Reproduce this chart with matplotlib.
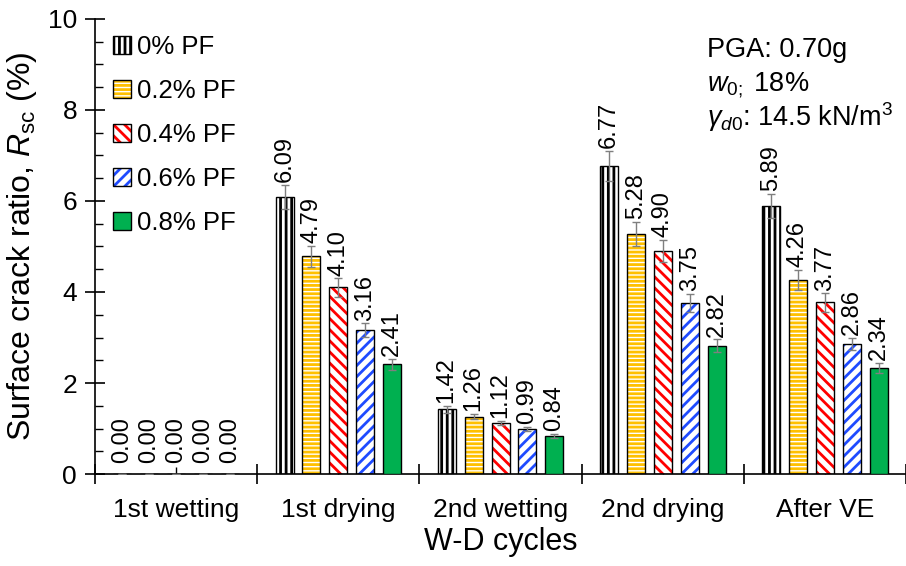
import numpy as np
import matplotlib
matplotlib.use("Agg")
from matplotlib import pyplot as plt
from matplotlib.patches import Patch
from matplotlib.legend_handler import HandlerTuple
from matplotlib.ticker import MultipleLocator, FixedLocator

plt.rcParams['font.family'] = ['Liberation Sans', 'DejaVu Sans']
plt.rcParams['mathtext.fontset'] = 'custom'
plt.rcParams['mathtext.rm'] = 'Liberation Sans'
plt.rcParams['mathtext.it'] = 'Liberation Sans:italic'
plt.rcParams['hatch.linewidth'] = 2.0

# data
cycles = ['1st wetting', '1st drying', '2nd wetting', '2nd drying', 'After VE']
series = ['0% PF', '0.2% PF', '0.4% PF', '0.6% PF', '0.8% PF']
pf0 = [0.00, 6.09, 1.42, 6.77, 5.89]
pf02 = [0.00, 4.79, 1.26, 5.28, 4.26]
pf04 = [0.00, 4.10, 1.12, 4.90, 3.77]
pf06 = [0.00, 3.16, 0.99, 3.75, 2.86]
pf08 = [0.00, 2.41, 0.84, 2.82, 2.34]
err0 = [0.0, 0.26, 0.07, 0.33, 0.26]
err02 = [0.0, 0.23, 0.06, 0.26, 0.22]
err04 = [0.0, 0.20, 0.05, 0.25, 0.20]
err06 = [0.0, 0.15, 0.05, 0.20, 0.14]
err08 = [0.0, 0.12, 0.04, 0.14, 0.11]

values = [pf0, pf02, pf04, pf06, pf08]
errors = [err0, err02, err04, err06, err08]
hatch_colors = ['black', '#FFC000', '#FF0000', '#1F4BFF', None]
hatches = ['|||', '----', '\\\\\\', '///', None]

fig = plt.figure(figsize=(9.06, 5.66), dpi=100)
ax = fig.add_axes([0.105, 0.1625, 0.895, 0.804])

x = np.arange(len(cycles))
pitch = 0.166
width = 0.111
handles = []
for i in range(5):
    xi = x + (i - 2) * pitch
    if hatches[i] is not None:
        # hatch layer in colour, then a black outline on top
        ax.bar(xi, values[i], width, color='white', edgecolor=hatch_colors[i],
               hatch=hatches[i], linewidth=0, zorder=2)
        ax.bar(xi, values[i], width, fill=False, edgecolor='black', linewidth=1, zorder=3)
        h = (Patch(facecolor='white', edgecolor=hatch_colors[i], hatch=hatches[i], linewidth=0),
             Patch(fill=False, edgecolor='black', linewidth=1))
    else:
        ax.bar(xi, values[i], width, color='#00B050', edgecolor='black', linewidth=1, zorder=3)
        h = Patch(facecolor='#00B050', edgecolor='black', linewidth=1)
    handles.append(h)
    ax.errorbar(xi, values[i], yerr=errors[i], fmt='none', ecolor='#7f7f7f',
                elinewidth=1, capsize=3, capthick=1, zorder=4)
    for xx, v, e in zip(xi, values[i], errors[i]):
        ax.annotate('%.2f' % v, (xx, v + e), xytext=(0, 2 if v > 0 else 8),
                    textcoords='offset points', rotation=90, ha='center', va='bottom',
                    fontsize=17)

ax.set_xlim(-0.5, 4.5)
ax.set_ylim(0, 10)
ax.spines['top'].set_visible(False)
ax.spines['right'].set_visible(False)
ax.spines['left'].set_linewidth(1.2)
ax.spines['bottom'].set_linewidth(1.2)

ax.set_xticks(x)
ax.set_xticklabels(cycles, fontsize=19)
ax.xaxis.set_minor_locator(FixedLocator(np.arange(-0.5, 5, 1)))
ax.tick_params(axis='x', which='major', direction='in', length=5, width=1, pad=17)
ax.tick_params(axis='x', which='minor', direction='inout', length=14, width=1.2)

ax.yaxis.set_major_locator(MultipleLocator(2))
ax.yaxis.set_minor_locator(MultipleLocator(0.5))
ax.tick_params(axis='y', which='major', direction='inout', length=14, width=1.2,
               labelsize=19, pad=6)
ax.tick_params(axis='y', which='minor', direction='in', length=6, width=1)

ax.set_xlabel('W-D cycles', fontsize=22, labelpad=4)
ax.set_ylabel(r'Surface crack ratio, $\mathit{R}_{\mathrm{sc}}$ (%)', fontsize=23, labelpad=6)

ax.legend(handles, series, handler_map={tuple: HandlerTuple(ndivide=1, pad=0)},
          loc='upper left', bbox_to_anchor=(-0.006, 1.015), frameon=False, fontsize=18.5,
          handlelength=0.7, handleheight=0.7, handletextpad=0.2, labelspacing=0.78)

ax.text(0.755, 0.917, 'PGA: 0.70g', transform=ax.transAxes, fontsize=19.5)
ax.text(0.755, 0.841, r'$w_{0;}$ 18%', transform=ax.transAxes, fontsize=19.5)
ax.text(0.755, 0.765, r'$\gamma_{d0}$: 14.5 kN/m$^3$', transform=ax.transAxes, fontsize=19.5)

plt.savefig('out.png', dpi=100)
